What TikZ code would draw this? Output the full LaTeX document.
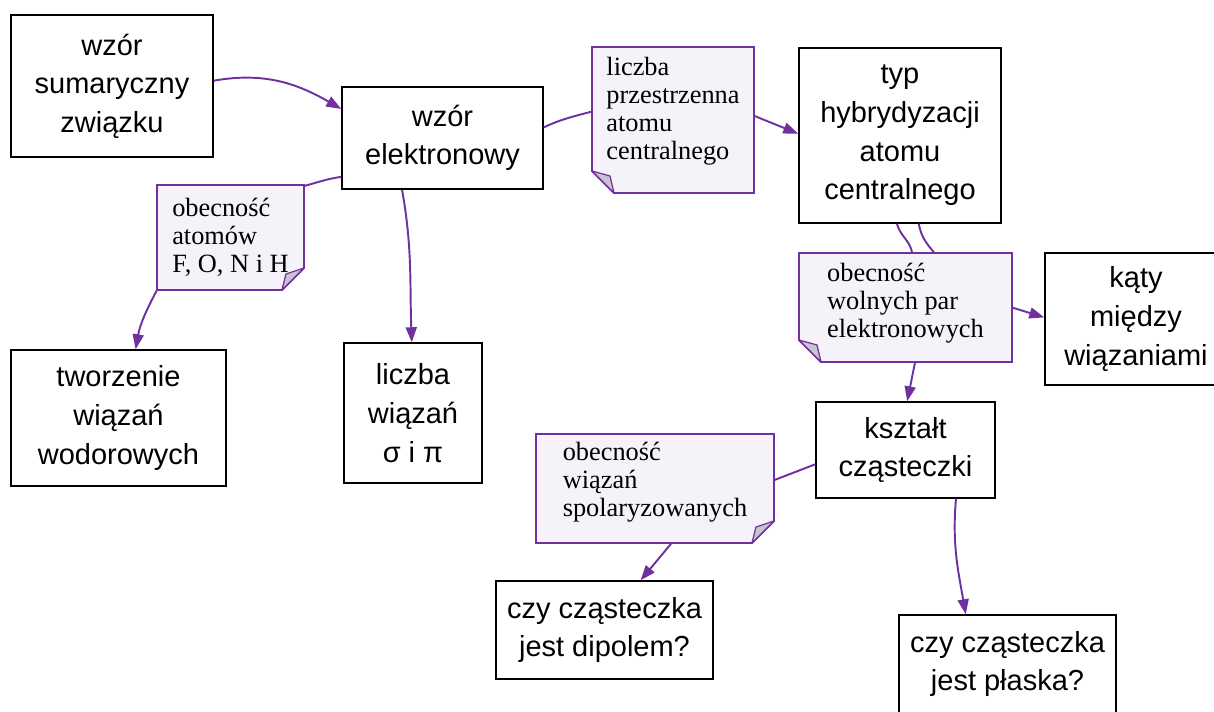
\documentclass[tikz,border=0pt]{standalone}
\usepackage{fontspec}
\setmainfont{Liberation Sans}
\newfontfamily\notefont{Liberation Serif}
\usetikzlibrary{arrows.meta}

\definecolor{linkpurple}{RGB}{112,48,160}
\definecolor{notebg}{RGB}{246,242,250}
\definecolor{foldgray}{RGB}{200,196,206}

% folded notes (corner bottom left / bottom right)
\newcommand{\foldBL}[1]{%
  \draw[noteline] (#1.north west) -- (#1.north east) -- (#1.south east) -- ([xshift=0.44cm]#1.south west) -- ([yshift=0.44cm]#1.south west) -- cycle;
  \draw[foldline] ([yshift=0.44cm]#1.south west) -- ([xshift=0.36cm,yshift=0.34cm]#1.south west) -- ([xshift=0.44cm]#1.south west) -- cycle;}
\newcommand{\foldBR}[1]{%
  \draw[noteline] (#1.north west) -- (#1.north east) -- ([yshift=0.44cm]#1.south east) -- ([xshift=-0.44cm]#1.south east) -- (#1.south west) -- cycle;
  \draw[foldline] ([yshift=0.44cm]#1.south east) -- ([xshift=-0.36cm,yshift=0.32cm]#1.south east) -- ([xshift=-0.44cm]#1.south east) -- cycle;}

\begin{document}
\begin{tikzpicture}[x=0.02cm, y=0.02cm,
    box/.style={draw=black, line width=0.85pt, align=center, inner sep=0pt, font=\fontsize{16.5}{22}\selectfont},
    note/.style={inner sep=0pt, outer sep=0pt},
    notetxt/.style={align=left, inner sep=0pt, font=\notefont\fontsize{15}{16}\selectfont},
    noteline/.style={draw=linkpurple, fill=notebg, line width=1.1pt},
    foldline/.style={draw=linkpurple, fill=foldgray, line width=0.7pt, line join=round},
    link/.style={draw=linkpurple, line width=1.1pt},
    arr/.style={link, -{Triangle[length=0.3cm, width=0.22cm]}}]

        \useasboundingbox (0,0) rectangle (1214,-711);

        %===========================
        % Boxes
        %===========================

        \node[box, minimum width=4.04cm, minimum height=2.84cm] (sum) at (112,-86) {wzór\\sumaryczny\\związku};
        \node[box, minimum width=4.02cm, minimum height=2.04cm] (elek) at (442.5,-138) {wzór\\elektronowy};
        \node[box, minimum width=4.04cm, minimum height=3.5cm] (typ) at (900,-135.5) {typ\\hybrydyzacji\\atomu\\centralnego};
        \node[box, minimum width=4.3cm, minimum height=2.72cm] (tworz) at (118.5,-418) {tworzenie\\wiązań\\wodorowych};
        \node[box, minimum width=2.76cm, minimum height=2.8cm] (liczba) at (413,-413) {liczba\\wiązań\\σ i π};
        \node[box, minimum width=3.64cm, minimum height=2.64cm] (katy) at (1136,-319) {kąty\\między\\wiązaniami};
        \node[box, minimum width=3.58cm, minimum height=1.92cm] (ksztalt) at (905.5,-450) {kształt\\cząsteczki};
        \node[box, minimum width=4.34cm, minimum height=1.96cm] (dipol) at (604.5,-630) {czy cząsteczka\\jest dipolem?};
        \node[box, minimum width=4.34cm, minimum height=1.96cm] (plaska) at (1007.5,-664) {czy cząsteczka\\jest płaska?};

        %===========================
        % Notes
        %===========================

        \node[note, minimum width=3.24cm, minimum height=2.92cm] (n1) at (673,-120) {};
        \foldBL{n1}
        \node[notetxt, yshift=0.18cm] (n1t) at (n1) {liczba\\przestrzenna\\atomu\\centralnego};

        \node[note, minimum width=2.94cm, minimum height=2.1cm] (n2) at (230.5,-237.5) {};
        \foldBR{n2}
        \node[notetxt] (n2t) at (n2) {obecność\\atomów\\F, O, N i H};

        \node[note, minimum width=4.26cm, minimum height=2.18cm] (n3) at (905.5,-307.5) {};
        \foldBL{n3}
        \node[notetxt, yshift=0.09cm] (n3t) at (n3) {obecność\\wolnych par\\elektronowych};

        \node[note, minimum width=4.76cm, minimum height=2.18cm] (n4) at (655,-488.5) {};
        \foldBR{n4}
        \node[notetxt, yshift=0.13cm] (n4t) at (n4) {obecność\\wiązań\\spolaryzowanych};

        %===========================
        % Connectors
        %===========================

        \draw[arr] (sum.3) to[out=10, in=150] (elek.164);

        % top: through note n1
        \draw[link] (elek.6) to[out=25, in=195] (n1.174);
        \draw[arr] (n1.3) -- (typ.179);

        % left: through note n2
        \draw[link] (elek.201) to[out=188, in=15] (n2.35);
        \draw[arr] (n2.south west) to[out=242, in=80] (tworz.76);
        \draw[arr] (elek.232) to[out=-80, in=92] (liczba.91);

        % right: through note n3
        \draw[link] (typ.268) to[out=-75, in=100] (n3.83);
        \draw[link] (typ.282) to[out=-80, in=130] (n3.62);
        \draw[arr] (n3.0) -- (katy.179);
        \draw[arr] (n3.280) -- (ksztalt.88);

        % bottom
        \draw[link] (ksztalt.189) -- (n4.4);
        \draw[arr] (n4.287) -- (dipol.54);
        \draw[arr] (ksztalt.316) to[out=-95, in=100] (plaska.130);

\end{tikzpicture}
\end{document}
